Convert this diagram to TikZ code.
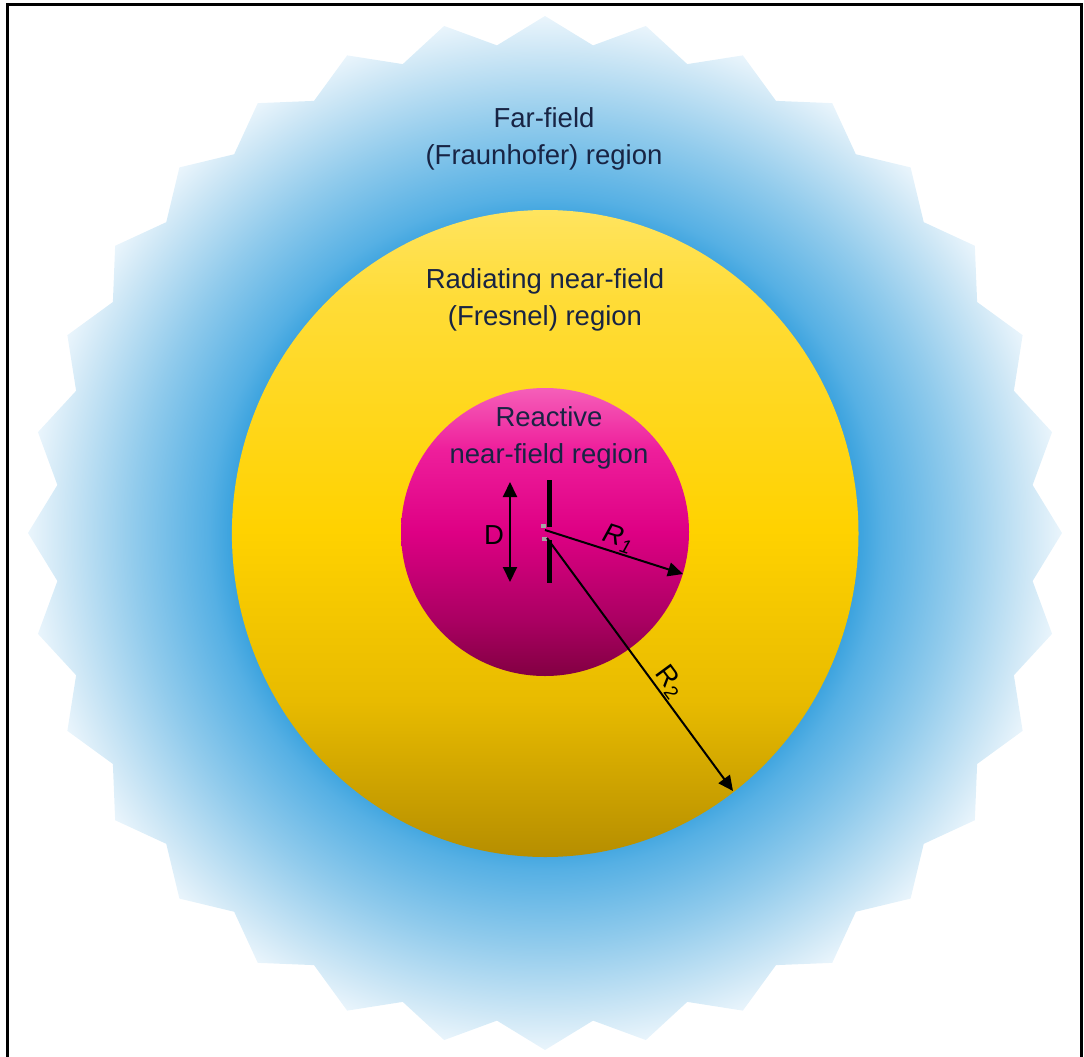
\documentclass[tikz,border=0pt]{standalone}
\usepackage{fontspec}
\setmainfont{Liberation Sans}
\usetikzlibrary{arrows.meta}
\definecolor{txt}{RGB}{24,36,68}
\definecolor{ffA}{RGB}{58,162,222}
\definecolor{ffB}{RGB}{86,176,228}
\definecolor{ffC}{RGB}{145,203,236}
\definecolor{ffD}{RGB}{208,232,246}
\definecolor{ffE}{RGB}{234,245,252}
\definecolor{yl1}{RGB}{255,228,95}
\definecolor{yl2}{RGB}{255,220,55}
\definecolor{yl3}{RGB}{255,210,0}
\definecolor{yl4}{RGB}{232,187,0}
\definecolor{yl5}{RGB}{182,142,0}
\definecolor{mg1}{RGB}{245,95,185}
\definecolor{mg2}{RGB}{238,30,155}
\definecolor{mg3}{RGB}{222,0,132}
\definecolor{mg4}{RGB}{170,0,98}
\definecolor{mg5}{RGB}{130,0,66}
\pgfdeclareradialshading{farfield}{\pgfpoint{0bp}{0bp}}{color(0bp)=(ffA); color(15.1bp)=(ffA); color(16.3bp)=(ffB); color(19.9bp)=(ffC); color(23.5bp)=(ffD); color(25bp)=(ffE); color(28bp)=(white); color(50bp)=(white)}
\pgfdeclareverticalshading{fresnel}{100bp}{color(0bp)=(yl5); color(25bp)=(yl5); color(37.1bp)=(yl4); color(50.3bp)=(yl3); color(68bp)=(yl2); color(75bp)=(yl1); color(100bp)=(yl1)}
\pgfdeclareverticalshading{reactive}{100bp}{color(0bp)=(mg5); color(25bp)=(mg5); color(34.7bp)=(mg4); color(50bp)=(mg3); color(64.2bp)=(mg2); color(75bp)=(mg1); color(100bp)=(mg1)}
\tikzset{
  lbl/.style={font=\fontsize{27.5}{37}\selectfont, align=center, text=txt, inner sep=0pt, anchor=base},
  dim/.style={line width=2pt, -{Triangle[length=15pt,width=14pt]}},
  ddim/.style={line width=2pt, {Triangle[length=15pt,width=14pt]}-{Triangle[length=15pt,width=14pt]}},
  rlbl/.style={font=\fontsize{27.5}{30}\selectfont, text=black, inner sep=1pt},
  ant/.style={line width=5pt, black}
}
\begin{document}
\begin{tikzpicture}[x=1pt,y=-1pt]
\useasboundingbox (0,0) rectangle (1084,1057);
% far-field star
\begin{scope}[shift={(545,533)}]
\shade[shading=farfield] (90:517)
  \foreach \k in {0,...,31} { -- ({90+\k*11.25+5.625}:490) -- ({90+(\k+1)*11.25}:517) } -- cycle;
\end{scope}
% radiating near-field
\shade[shading=fresnel] (545.2,533.5) ellipse [x radius=313.3, y radius=323.5];
% reactive near-field
\shade[shading=reactive] (545,532) circle [radius=144];
% frame
\draw[line width=3pt] (7.5,1057) -- (7.5,5) -- (1081,5) -- (1081,1057);
% labels
\node[lbl] (far) at (544,164) {Far-field\\(Fraunhofer) region};
\node[lbl] (rad) at (545,325) {Radiating near-field\\(Fresnel) region};
\node[lbl] (rea) at (549,463) {Reactive\\near-field region};
% antenna
\coordinate (a1) at (549.5,480);
\coordinate (a2) at (549.5,527);
\coordinate (a3) at (549.5,540);
\coordinate (a4) at (549.5,583);
\draw[ant] (a1) -- (a2);
\draw[ant] (a3) -- (a4);
\fill[gray!70] (541,524) rectangle (546,528);
\fill[gray!70] (542,537) rectangle (547,541);
% D
\coordinate (d1) at (510,482);
\coordinate (d2) at (510,582);
\draw[ddim] (d1) -- (d2);
\node[rlbl] (dl) at (494,535) {D};
% R1 and R2
\coordinate (f1) at (545,530);
\coordinate (r1) at (683,574);
\coordinate (f2) at (547,538);
\coordinate (r2) at (733,791);
\draw[dim] (f1) -- (r1) node[rlbl, pos=0.5, above, sloped] (r1l) {\itshape R\textsubscript{1}};
\draw[dim] (f2) -- (r2) node[rlbl, pos=0.6, above, sloped] (r2l) {R\textsubscript{2}};
\end{tikzpicture}
\end{document}
